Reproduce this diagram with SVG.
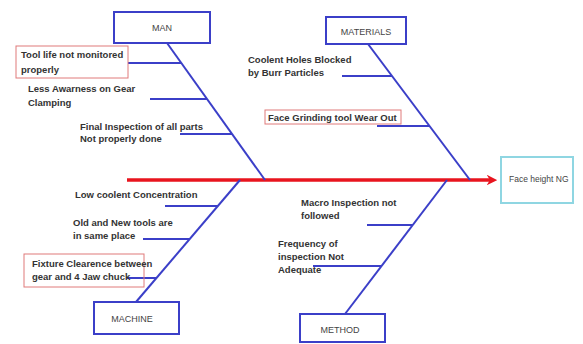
<svg xmlns="http://www.w3.org/2000/svg" width="583" height="344" viewBox="0 0 583 344">
<defs>
<style>
.cat{fill:#fff;stroke:#3b3fc8;stroke-width:2}
.cl{font-family:"Liberation Sans",Arial,sans-serif;font-size:9px;fill:#444;text-anchor:middle}
.t{font-family:"Liberation Sans",Arial,sans-serif;font-size:9.5px;font-weight:bold;fill:#333}
.rb{fill:none;stroke:#e07a7a;stroke-width:1}
.bone{stroke:#3b3fc8;stroke-width:2;fill:none}
.br{stroke:#3b3fc8;stroke-width:2;fill:none}
</style>
<marker id="ah" viewBox="0 0 10 10" refX="5" refY="5" markerWidth="3" markerHeight="3" orient="auto" markerUnits="strokeWidth">
<path d="M0,0 L10,5 L0,10 L3,5 Z" fill="#e8141e"/>
</marker>
</defs>
<rect width="583" height="344" fill="#fff"/>
<g id="connectors">
<line x1="127" y1="180" x2="492" y2="180" stroke="#e8141e" stroke-width="3.5" marker-end="url(#ah)"/>
<line class="bone" x1="167" y1="43" x2="265" y2="180"/>
<line class="bone" x1="368" y1="44" x2="470" y2="180"/>
<line class="bone" x1="136" y1="302" x2="240" y2="180"/>
<line class="bone" x1="345" y1="314" x2="447" y2="180"/>
<line class="br" x1="128" y1="63" x2="181" y2="63"/>
<line class="br" x1="150" y1="99" x2="207" y2="99"/>
<line class="br" x1="180" y1="134" x2="232" y2="134"/>
<line class="br" x1="342" y1="76" x2="392" y2="76"/>
<line class="br" x1="377" y1="126" x2="429" y2="126"/>
<line class="br" x1="165" y1="206" x2="218" y2="206"/>
<line class="br" x1="143" y1="239" x2="190" y2="239"/>
<line class="br" x1="127" y1="278" x2="157" y2="278"/>
<line class="br" x1="367" y1="225" x2="413" y2="225"/>
<line class="br" x1="313" y1="266" x2="382" y2="266"/>
</g>
<g id="man"><rect class="cat" x="114" y="12" width="96" height="31"/><text class="cl" x="162" y="31">MAN</text></g>
<g id="materials"><rect class="cat" x="326" y="17" width="80" height="27"/><text class="cl" x="366" y="35">MATERIALS</text></g>
<g id="machine"><rect class="cat" x="94" y="302" width="85" height="32"/><text class="cl" x="132" y="322">MACHINE</text></g>
<g id="method"><rect class="cat" x="300" y="314" width="85" height="28"/><text class="cl" x="340" y="333">METHOD</text></g>
<g id="effect"><rect x="501" y="157" width="72" height="46" fill="#fff" stroke="#8fd6e2" stroke-width="2"/><text x="509" y="182" font-family="Liberation Sans,Arial,sans-serif" font-size="8.5px" fill="#444">Face height NG</text></g>
<g id="c-toollife"><rect class="rb" x="16" y="46" width="112" height="32"/><text class="t" x="21" y="58">Tool life not monitored</text><text class="t" x="21" y="73">properly</text></g>
<g id="c-awareness"><text class="t" x="28" y="92">Less Awarness on Gear</text><text class="t" x="28" y="106">Clamping</text></g>
<g id="c-final"><text class="t" x="80" y="130">Final Inspection of all parts</text><text class="t" x="80" y="142">Not properly done</text></g>
<g id="c-coolent-holes"><text class="t" x="248" y="63">Coolent Holes Blocked</text><text class="t" x="248" y="76">by Burr Particles</text></g>
<g id="c-grinding"><rect class="rb" x="265" y="110" width="136" height="14"/><text class="t" x="268" y="120.5">Face Grinding tool Wear Out</text></g>
<g id="c-low-coolent"><text class="t" x="75" y="198">Low coolent Concentration</text></g>
<g id="c-old-new"><text class="t" x="73" y="226">Old and New tools are</text><text class="t" x="73" y="239">in same place</text></g>
<g id="c-fixture"><rect class="rb" x="24" y="254" width="120" height="33"/><text class="t" x="32" y="267">Fixture Clearence between</text><text class="t" x="32" y="280">gear and 4 Jaw chuck</text></g>
<g id="c-macro"><text class="t" x="301" y="206">Macro Inspection not</text><text class="t" x="301" y="219">followed</text></g>
<g id="c-frequency"><text class="t" x="278" y="247">Frequency of</text><text class="t" x="278" y="260">inspection Not</text><text class="t" x="278" y="273">Adequate</text></g>
</svg>
